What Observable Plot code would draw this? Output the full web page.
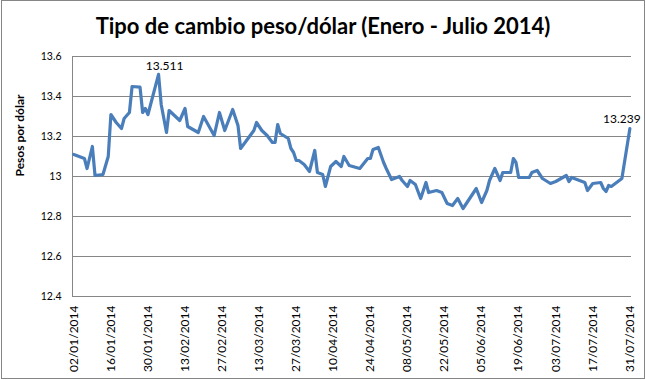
<!DOCTYPE html>
<html>
<head>
<meta charset="utf-8">
<script src="https://cdn.jsdelivr.net/npm/d3@7"></script>
<script src="https://cdn.jsdelivr.net/npm/@observablehq/plot@0.6"></script>
<style>
  html, body { margin: 0; padding: 0; background: #fff; }
  #chart { position: relative; width: 646px; height: 380px; overflow: hidden; background: #fff; }
  #border { position: absolute; left: 1px; top: 0; width: 644px; height: 379px; box-sizing: border-box; border: 1px solid #868686; pointer-events: none; }
  #title { position: absolute; left: 0; top: 12px; width: 646px; text-align: center; font-family: Lato, "Open Sans", sans-serif; font-weight: bold; font-size: 22px; line-height: 28px; color: #000; }
  #plot { position: absolute; left: 0; top: 40px; }
</style>
</head>
<body>
<div id="chart">
  <div id="title"></div>
  <div id="plot"></div>
  <div id="border"></div>
</div>
<script>
const titleText = "Tipo de cambio peso/dólar (Enero - Julio 2014)";
const yLabel = "Pesos por dólar";

const dates = [
  "2014-01-02","2014-01-04","2014-01-06","2014-01-07","2014-01-09","2014-01-10","2014-01-13","2014-01-15",
  "2014-01-16","2014-01-18","2014-01-20","2014-01-21","2014-01-23","2014-01-24","2014-01-27","2014-01-28",
  "2014-01-29","2014-01-30","2014-02-03","2014-02-04","2014-02-06","2014-02-07","2014-02-11","2014-02-13",
  "2014-02-14","2014-02-18","2014-02-20","2014-02-24","2014-02-26","2014-02-28","2014-03-03","2014-03-05",
  "2014-03-06","2014-03-11","2014-03-12","2014-03-14","2014-03-16","2014-03-18","2014-03-19","2014-03-20",
  "2014-03-21","2014-03-24","2014-03-25","2014-03-26","2014-03-27","2014-03-28","2014-03-30","2014-04-01",
  "2014-04-03","2014-04-04","2014-04-06","2014-04-07","2014-04-09","2014-04-11","2014-04-13","2014-04-14",
  "2014-04-16","2014-04-20","2014-04-23","2014-04-24","2014-04-25","2014-04-27","2014-04-29","2014-04-30",
  "2014-05-02","2014-05-05","2014-05-06","2014-05-08","2014-05-09","2014-05-11","2014-05-13","2014-05-15",
  "2014-05-16","2014-05-19","2014-05-21","2014-05-23","2014-05-25","2014-05-27","2014-05-29","2014-05-31",
  "2014-06-02","2014-06-03","2014-06-05","2014-06-07","2014-06-08","2014-06-10","2014-06-12","2014-06-13",
  "2014-06-16","2014-06-17","2014-06-18","2014-06-19","2014-06-23","2014-06-24","2014-06-26","2014-06-28",
  "2014-07-01","2014-07-03","2014-07-07","2014-07-08","2014-07-09","2014-07-11","2014-07-14","2014-07-15",
  "2014-07-17","2014-07-20","2014-07-21","2014-07-22","2014-07-23","2014-07-24","2014-07-28","2014-07-31"
];

const values = [
  13.11, 13.10, 13.09, 13.04, 13.15, 13.005, 13.01, 13.10,
  13.31, 13.27, 13.24, 13.29, 13.32, 13.45, 13.447, 13.32,
  13.34, 13.31, 13.511, 13.36, 13.22, 13.33, 13.28, 13.34,
  13.25, 13.22, 13.30, 13.205, 13.32, 13.23, 13.335, 13.255,
  13.14, 13.23, 13.27, 13.23, 13.205, 13.17, 13.17, 13.26,
  13.215, 13.19, 13.14, 13.12, 13.08, 13.08, 13.06, 13.025,
  13.13, 13.02, 13.01, 12.95, 13.05, 13.075, 13.05, 13.10,
  13.055, 13.04, 13.09, 13.09, 13.135, 13.145, 13.07, 13.04,
  12.985, 13.00, 12.98, 12.95, 12.98, 12.96, 12.89, 12.97,
  12.92, 12.93, 12.92, 12.865, 12.855, 12.89, 12.84, 12.88,
  12.92, 12.94, 12.87, 12.93, 12.98, 13.04, 12.98, 13.02,
  13.02, 13.09, 13.07, 12.995, 12.995, 13.02, 13.03, 12.99,
  12.965, 12.975, 13.005, 12.975, 12.995, 12.985, 12.97, 12.93,
  12.965, 12.97, 12.94, 12.925, 12.955, 12.95, 12.99, 13.239
];

const xTickLabels = [
  "02/01/2014","16/01/2014","30/01/2014","13/02/2014","27/02/2014","13/03/2014","27/03/2014","10/04/2014",
  "24/04/2014","08/05/2014","22/05/2014","05/06/2014","19/06/2014","03/07/2014","17/07/2014","31/07/2014"
];
const yTicks = [12.4, 12.6, 12.8, 13.0, 13.2, 13.4, 13.6];

document.getElementById("title").textContent = titleText;

const data = dates.map((d, i) => ({date: new Date(d + "T00:00:00Z"), value: values[i]}));
const parseTick = d3.utcParse("%d/%m/%Y");
const xTicks = xTickLabels.map(parseTick);
const fmtTick = d3.utcFormat("%d/%m/%Y");
const xDomain = [new Date(Date.UTC(2014, 0, 1, 12)), new Date(Date.UTC(2014, 6, 31, 15))];

const maxVal = d3.max(values);
const peak = data.filter(d => d.value === maxVal);
const last = data.slice(-1);
const fmtVal = d3.format(".3f");

const chart = Plot.plot({
  width: 646,
  height: 340,
  marginTop: 16,
  marginBottom: 84,
  marginLeft: 72,
  marginRight: 15,
  style: {fontFamily: "Lato, 'Open Sans', sans-serif", background: "transparent", color: "#000"},
  x: {type: "utc", domain: xDomain},
  y: {domain: [12.4, 13.6]},
  marks: [
    Plot.gridY(yTicks, {stroke: "#868686", strokeOpacity: 1, strokeWidth: 1}),
    Plot.ruleX([xDomain[0]], {stroke: "#868686", strokeWidth: 1}),
    Plot.axisY({
      ticks: yTicks,
      tickSize: 0,
      tickPadding: 11,
      tickFormat: d => String(+d.toFixed(1)),
      fontSize: 10.5,
      label: null
    }),
    Plot.axisX({
      ticks: xTicks,
      tickSize: 0,
      tickPadding: 9,
      tickRotate: -90,
      tickFormat: fmtTick,
      fontSize: 12,
      label: null
    }),
    Plot.text([yLabel], {
      frameAnchor: "left",
      text: d => d,
      rotate: -90,
      dx: -52,
      fontSize: 12,
      fontWeight: "bold"
    }),
    Plot.line(data, {x: "date", y: "value", stroke: "#4a7ebb", strokeWidth: 3.2, strokeLinejoin: "round", strokeLinecap: "round"}),
    Plot.text(peak, {x: "date", y: "value", text: d => fmtVal(d.value), dx: 6, dy: -8, fontSize: 12}),
    Plot.text(last, {x: "date", y: "value", text: d => fmtVal(d.value), dx: -8, dy: -10, fontSize: 12})
  ]
});
document.getElementById("plot").appendChild(chart);
</script>
</body>
</html>
